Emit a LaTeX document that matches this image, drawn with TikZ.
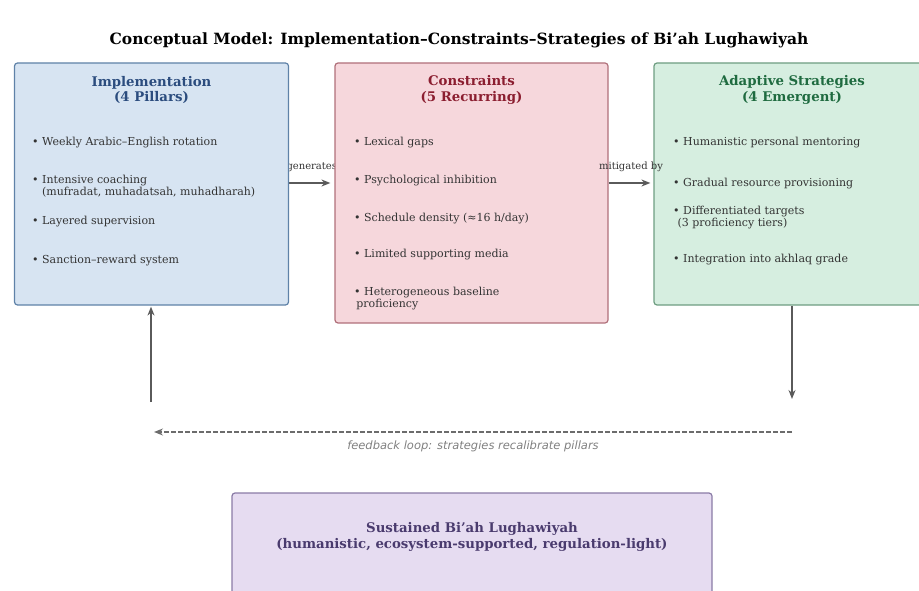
\documentclass[tikz,border=0pt]{standalone}
\usepackage{fontspec}
\setmainfont{DejaVu Serif}
\newfontfamily\loopfont{DejaVu Sans}
\usetikzlibrary{arrows.meta,backgrounds}

\definecolor{implfill}{HTML}{D7E4F2}
\definecolor{impldraw}{HTML}{5F82A8}
\definecolor{impltext}{HTML}{2B4C7E}
\definecolor{consfill}{HTML}{F6D7DC}
\definecolor{consdraw}{HTML}{B0707A}
\definecolor{constext}{HTML}{8B1E30}
\definecolor{stratfill}{HTML}{D6EEE0}
\definecolor{stratdraw}{HTML}{6F9E82}
\definecolor{strattext}{HTML}{1F6B40}
\definecolor{sustfill}{HTML}{E6DCF1}
\definecolor{sustdraw}{HTML}{8A7BA6}
\definecolor{susttext}{HTML}{4A3B6E}
\definecolor{itemgray}{HTML}{333333}
\definecolor{arrowgray}{HTML}{5A5A5A}

\begin{document}
\begin{tikzpicture}[x=1pt, y=-1pt,
    box/.style={draw, rounded corners=3pt, line width=1.2pt, inner sep=0pt},
    boxtitle/.style={font=\bfseries\fontsize{13.3}{15.5}\selectfont, align=center, inner sep=0pt},
    item/.style={anchor=base west, font=\fontsize{11}{12}\selectfont, text=itemgray, align=left, inner sep=0pt},
    flow/.style={-{Stealth[length=9pt,width=7pt]}, line width=1.4pt, draw=arrowgray},
    flowlabel/.style={font=\fontsize{10}{11}\selectfont, text=itemgray, inner sep=1pt}]
    \clip (0,0) rectangle (919,591);

    \node[font=\bfseries\fontsize{15.5}{18}\selectfont] (title) at (459,40)
        {Conceptual Model: Implementation--Constraints--Strategies of Bi'ah Lughawiyah};

    % the three main boxes
    \node[box, fill=implfill, draw=impldraw, minimum width=274pt, minimum height=242pt] (impl) at (151.5,184) {};
    \node[box, fill=consfill, draw=consdraw, minimum width=273pt, minimum height=260pt] (cons) at (471.5,193) {};
    \node[box, fill=stratfill, draw=stratdraw, minimum width=276pt, minimum height=242pt] (strat) at (792,184) {};
    \node[box, fill=sustfill, draw=sustdraw, minimum width=480pt, minimum height=110pt] (sust) at (472,548) {};

    \node[boxtitle, text=impltext] (impl-title) at (151.5,90) {Implementation\\(4 Pillars)};
    \node[boxtitle, text=constext] (cons-title) at (471.5,90) {Constraints\\(5 Recurring)};
    \node[boxtitle, text=strattext] (strat-title) at (792,90) {Adaptive Strategies\\(4 Emergent)};
    \node[boxtitle, text=susttext] (sust-title) at (472,537)
        {Sustained Bi'ah Lughawiyah\\(humanistic, ecosystem-supported, regulation-light)};

    % bullet lists (y is the baseline of the last line)
    \foreach \y/\txt [count=\i] in {
        146/{Weekly Arabic–English rotation},
        196/{Intensive coaching\\\hspace*{0.9em}(mufradat, muhadatsah, muhadharah)},
        224/{Layered supervision},
        263/{Sanction–reward system}}
        \node[item] (impl-\i) at (32,\y) {•\ \txt};
    \foreach \y/\txt [count=\i] in {
        146/{Lexical gaps},
        184/{Psychological inhibition},
        222/{Schedule density (≈16 h/day)},
        258/{Limited supporting media},
        307/{Heterogeneous baseline\\\hspace*{0.2em}proficiency}}
        \node[item] (cons-\i) at (354,\y) {•\ \txt};
    \foreach \y/\txt [count=\i] in {
        146/{Humanistic personal mentoring},
        186/{Gradual resource provisioning},
        226/{Differentiated targets\\\hspace*{0.4em}(3 proficiency tiers)},
        262/{Integration into akhlaq grade}}
        \node[item] (strat-\i) at (673,\y) {•\ \txt};

    % connectors
    \coordinate (up-start) at (151,402);
    \coordinate (down-end) at (792,399);
    \coordinate (loop-right) at (792,432);
    \coordinate (loop-left) at (154,432);
    \begin{pgfonlayer}{background}
        \draw[flow, shorten >=4pt] (impl.east |- 0,183) -- node[flowlabel, above=10pt] (gen-label) {generates} (cons.west |- 0,183);
    \end{pgfonlayer}
    \draw[flow, shorten >=3pt] (cons.east |- 0,183) -- node[flowlabel, above=10pt] (mit-label) {mitigated by} (strat.west |- 0,183);
    \draw[flow, shorten >=1pt] (up-start) -- (up-start |- impl.south);
    \draw[flow] (strat.south) -- (down-end);
    \draw[flow, draw=gray!85!black, dash pattern=on 5pt off 2pt] (loop-right) -- (loop-left)
        node[midway, below=5pt, font=\loopfont\itshape\fontsize{11.5}{12}\selectfont, text=gray] (loop-label)
        {feedback loop: strategies recalibrate pillars};
\end{tikzpicture}
\end{document}
